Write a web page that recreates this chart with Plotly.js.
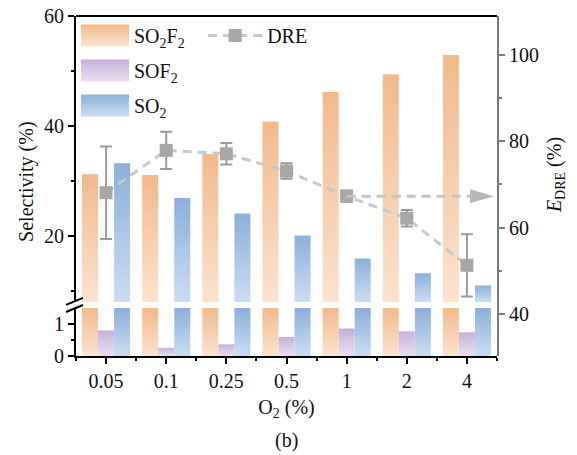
<!DOCTYPE html>
<html>
<head>
<meta charset="utf-8">
<script src="https://cdn.plot.ly/plotly-3.0.1.min.js"></script>
<style>
html,body{margin:0;padding:0;background:#fff;}
#chart{width:577px;height:455px;}
</style>
</head>
<body>
<div id="chart"></div>
<script>
// ---- data ----
const categories = ['0.05', '0.1', '0.25', '0.5', '1', '2', '4'];
const so2f2 = [31.2, 31.1, 34.9, 40.8, 46.2, 49.4, 52.9];
const sof2 = [0.81, 0.26, 0.37, 0.60, 0.87, 0.78, 0.75];
const so2 = [33.2, 26.9, 24.1, 20.1, 15.9, 13.2, 11.0];
const dre = [68.1, 77.9, 77.1, 73.1, 67.3, 62.2, 51.3];
const dreErr = [10.7, 4.3, 2.5, 1.8, 1.3, 1.9, 7.2];
const seriesNames = ['SO<sub>2</sub>F<sub>2</sub>', 'SOF<sub>2</sub>', 'SO<sub>2</sub>'];
const arrowAt = '1';

// ---- styling ----
const FONT = 'Times New Roman, Liberation Serif, serif';
const grads = {
  o: ['#F2B98A', '#FCE3CF'],
  p: ['#C6AFD9', '#EAE0F2'],
  b: ['#8CB0DC', '#CADCF2']
};
const mid = {o: '#F6CBA6', p: '#D6C6E4', b: '#A9C5E7'};
const keys = ['o', 'p', 'b'];
const values = [so2f2, sof2, so2];
const xIdx = categories.map((c, i) => i);
const xRange = [-0.5, categories.length - 0.5];

const data = [];
// lower segment (y) and upper segment (y2)
['y', 'y2'].forEach(ax => {
  values.forEach((v, k) => {
    data.push({
      type: 'bar', x: xIdx, y: v, xaxis: 'x', yaxis: ax,
      name: seriesNames[k], meta: keys[k],
      marker: {color: mid[keys[k]], line: {width: 0}},
      showlegend: ax === 'y2', legend: 'legend',
      legendgroup: 'g' + k, hoverinfo: 'skip'
    });
  });
});
data.push({
  type: 'scatter', mode: 'lines+markers', x: xIdx, y: dre, xaxis: 'x', yaxis: 'y3',
  name: 'DRE', legend: 'legend2',
  line: {color: '#C9C9C9', width: 3, dash: '9px,6px'},
  marker: {symbol: 'square', size: 13, color: '#A7A7A7'},
  error_y: {type: 'data', array: dreErr, visible: true, color: '#9A9A9A', thickness: 2, width: 6}
});

const axFont = {family: FONT, size: 20, color: '#111'};
const ai = categories.indexOf(arrowAt);

const layout = {
  width: 577, height: 455,
  margin: {l: 76, r: 80, t: 16, b: 99},
  paper_bgcolor: '#fff', plot_bgcolor: 'rgba(0,0,0,0)',
  font: {family: FONT, size: 20, color: '#111'},
  barmode: 'group', bargap: 0.2, bargroupgap: 0,
  xaxis: {
    domain: [0, 1], anchor: 'y', range: xRange, tickmode: 'array', tickvals: xIdx, ticktext: categories,
    showline: true, linecolor: '#000', linewidth: 2, ticks: 'outside', ticklen: 6, tickwidth: 2, tickcolor: '#000',
    minor: {tickmode: 'linear', tick0: 0.5, dtick: 1, ticks: 'outside', ticklen: 3, tickwidth: 2, tickcolor: '#000'},
    showgrid: false, zeroline: false, tickfont: axFont,
    title: {text: 'O<sub>2</sub> (%)', font: {family: FONT, size: 20}, standoff: 9}
  },
  yaxis: {
    domain: [0, 0.1413], anchor: 'x', range: [0, 1.52], tickmode: 'linear', tick0: 0, dtick: 1,
    showline: true, linecolor: '#000', linewidth: 2, ticks: 'outside', ticklen: 6, tickwidth: 2, tickcolor: '#000',
    minor: {tickmode: 'array', tickvals: [0.5], ticks: 'outside', ticklen: 3, tickwidth: 2, tickcolor: '#000'},
    showgrid: false, zeroline: false, tickfont: axFont
  },
  yaxis2: {
    domain: [0.159, 1], anchor: 'x', range: [8, 60], tickmode: 'linear', tick0: 0, dtick: 20,
    showline: true, linecolor: '#000', linewidth: 2, ticks: 'outside', ticklen: 6, tickwidth: 2, tickcolor: '#000',
    minor: {tickmode: 'linear', tick0: 0, dtick: 10, ticks: 'outside', ticklen: 3, tickwidth: 2, tickcolor: '#000'},
    showgrid: false, zeroline: false, tickfont: axFont
  },
  yaxis3: {
    domain: [0, 1], anchor: 'x', side: 'right', range: [30.3, 109], tickmode: 'linear', tick0: 0, dtick: 20,
    showline: true, linecolor: '#7A7A7A', linewidth: 2, ticks: 'outside', ticklen: 6, tickwidth: 2, tickcolor: '#7A7A7A',
    minor: {tickmode: 'linear', tick0: 0, dtick: 10, ticks: 'outside', ticklen: 3, tickwidth: 2, tickcolor: '#7A7A7A'},
    showgrid: false, zeroline: false, tickfont: axFont
  },
  legend: {
    x: 0.0, y: 1, xanchor: 'left', yanchor: 'top', orientation: 'v',
    bgcolor: 'rgba(0,0,0,0)', borderwidth: 0, itemwidth: 48, tracegroupgap: 6,
    font: {family: FONT, size: 20, color: '#111'}
  },
  legend2: {
    x: 0.302, y: 1, xanchor: 'left', yanchor: 'top',
    bgcolor: 'rgba(0,0,0,0)', borderwidth: 0, itemwidth: 54,
    font: {family: FONT, size: 20, color: '#111'}
  },
  shapes: [
    // top frame line
    {type: 'line', xref: 'paper', yref: 'paper', x0: 0, x1: 1, y0: 1, y1: 1, line: {color: '#000', width: 2}},
    // axis-break marks
    {type: 'line', xref: 'paper', yref: 'paper', xsizemode: 'pixel', ysizemode: 'pixel', xanchor: 0, yanchor: 0.159,
     x0: -10, x1: 7, y0: -3, y1: 4, line: {color: '#000', width: 2}},
    {type: 'line', xref: 'paper', yref: 'paper', xsizemode: 'pixel', ysizemode: 'pixel', xanchor: 0, yanchor: 0.1413,
     x0: -10, x1: 7, y0: -4, y1: 3, line: {color: '#000', width: 2}},
    // dashed arrow from the DRE point to the right axis
    {type: 'line', xref: 'x', yref: 'y3', x0: ai, x1: xRange[1] - 0.3, y0: dre[ai], y1: dre[ai],
     line: {color: '#C4C4C4', width: 3, dash: '9px,6px'}},
    {type: 'path', xref: 'x', yref: 'y3', xsizemode: 'pixel', ysizemode: 'pixel', xanchor: xRange[1], yanchor: dre[ai],
     path: 'M-3,0 L-27,-7 L-27,7 Z', fillcolor: '#B7B7B7', line: {width: 0}}
  ],
  annotations: [
    {text: 'Selectivity (%)', xref: 'paper', yref: 'paper', x: 0, y: 0.512, xshift: -49, textangle: -90,
     showarrow: false, font: {family: FONT, size: 20, color: '#111'}, xanchor: 'center', yanchor: 'middle'},
    {text: '<i>E</i><sub>DRE</sub> (%)', xref: 'paper', yref: 'paper', x: 1, y: 0.532, xshift: 58, textangle: -90,
     showarrow: false, font: {family: FONT, size: 20, color: '#111'}, xanchor: 'center', yanchor: 'middle'},
    {text: '(b)', xref: 'paper', yref: 'paper', x: 0.5, y: 0, yshift: -84, showarrow: false,
     font: {family: FONT, size: 20, color: '#111'}, xanchor: 'center', yanchor: 'middle'}
  ]
};

const gd = document.getElementById('chart');
Plotly.newPlot(gd, data, layout, {displayModeBar: false, staticPlot: true}).then(applyGradients);

function applyGradients() {
  const ns = 'http://www.w3.org/2000/svg';
  const svg = gd.querySelector('svg.main-svg');
  let defs = svg.querySelector('defs');
  if (!defs) { defs = document.createElementNS(ns, 'defs'); svg.insertBefore(defs, svg.firstChild); }
  let n = 0;
  function makeGrad(key, y1, y2) {
    const g = document.createElementNS(ns, 'linearGradient');
    const id = 'bargrad' + (n++);
    g.setAttribute('id', id);
    if (y1 === undefined) {
      g.setAttribute('x1', '0'); g.setAttribute('x2', '0'); g.setAttribute('y1', '0'); g.setAttribute('y2', '1');
    } else {
      g.setAttribute('gradientUnits', 'userSpaceOnUse');
      g.setAttribute('x1', '0'); g.setAttribute('x2', '0'); g.setAttribute('y1', y1); g.setAttribute('y2', y2);
    }
    [[0, grads[key][0]], [1, grads[key][1]]].forEach(([o, c]) => {
      const s = document.createElementNS(ns, 'stop');
      s.setAttribute('offset', o); s.setAttribute('stop-color', c);
      g.appendChild(s);
    });
    defs.appendChild(g);
    return id;
  }
  const fl = gd._fullLayout;
  gd.querySelectorAll('.barlayer .trace.bars').forEach(tr => {
    const cd = tr.__data__;
    if (!cd || !cd[0]) return;
    const trace = cd[0].trace;
    const yname = trace.yaxis === 'y' ? 'yaxis' : 'yaxis' + trace.yaxis.slice(1);
    const H = fl[yname]._length;
    tr.querySelectorAll('path').forEach(p => {
      let bb;
      try { bb = p.getBBox(); } catch (e) { return; }
      if (!bb || bb.height <= 0) return;
      const top = Math.max(bb.y, 0), bot = Math.min(bb.y + bb.height, H);
      if (bot <= top) return;
      p.style.fill = 'url(#' + makeGrad(trace.meta, top, bot) + ')';
    });
  });
  gd.querySelectorAll('.legend .traces').forEach(tr => {
    const d = tr.__data__;
    if (!d || !d[0]) return;
    const trace = d[0].trace;
    if (trace.type === 'bar') {
      tr.querySelectorAll('.legendpoints path').forEach(p => {
        p.setAttribute('d', 'M24,11H-24V-11H24Z');
        p.style.fill = 'url(#' + makeGrad(trace.meta) + ')';
      });
    }
  });
}
</script>
</body>
</html>
